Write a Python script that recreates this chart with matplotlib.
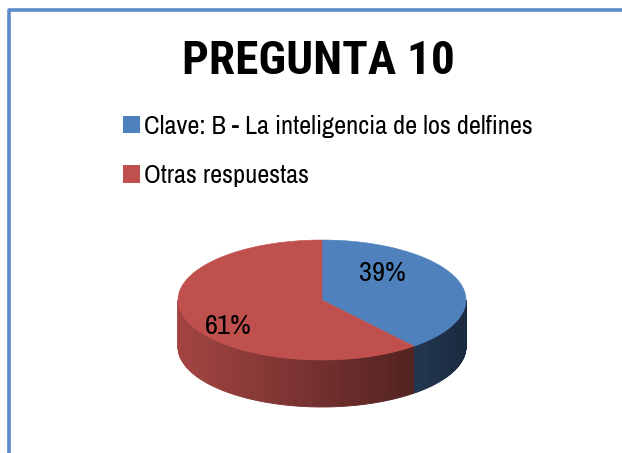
import numpy as np
import matplotlib.pyplot as plt
import matplotlib.colors as mc
from matplotlib.patches import Polygon, Patch

titulo = 'PREGUNTA 10'
categorias = ['Clave: B - La inteligencia de los delfines', 'Otras respuestas']
valores = [39, 61]
colores = ['#4F81BD', '#C0504D']

plt.rcParams['font.family'] = ['Liberation Sans Narrow', 'Archivo Narrow', 'DejaVu Sans']
fuente_titulo = ['Roboto Condensed', 'Asap Condensed', 'DejaVu Sans']

fig = plt.figure(figsize=(6.22, 4.53), dpi=100)
ax = fig.add_axes([0, 0, 1, 1])
ax.set_xlim(0, 622)
ax.set_ylim(453, 0)
ax.axis('off')

# marco azul (izquierda y arriba)
ax.plot([9, 9, 622], [453, 10, 10], color='#5B8BC9', lw=2.6, solid_capstyle='butt')

# pastel 3D: centro, radios y profundidad en pixeles
cx, cy, rx, ry, prof = 322, 300, 144, 60, 47


def punto(t, dy=0):
    t = np.radians(t)
    return cx + rx * np.sin(t), cy - ry * np.cos(t) + dy


def sombra(c, x):
    f = 0.85 - 0.52 * (x - (cx - rx)) / (2 * rx)
    r, g, b = mc.to_rgb(c)
    return (r * f, g * f, b * f)


total = sum(valores)
angulos = np.r_[0, np.cumsum(valores)] * 360 / total

# paredes laterales (solo la mitad frontal)
for i, c in enumerate(colores):
    a0, a1 = max(angulos[i], 90), min(angulos[i + 1], 270)
    if a1 <= a0:
        continue
    ts = np.linspace(a0, a1, 90)
    for t0, t1 in zip(ts[:-1], ts[1:]):
        x0, y0 = punto(t0)
        x1, y1 = punto(t1)
        col = sombra(c, (x0 + x1) / 2)
        ax.add_patch(Polygon([(x0, y0), (x1, y1), (x1, y1 + prof), (x0, y0 + prof)],
                             closed=True, fc=col, ec=col, lw=0.6))

# cara superior
for i, c in enumerate(colores):
    ts = np.linspace(angulos[i], angulos[i + 1], 200)
    xs, ys = punto(ts)
    ax.add_patch(Polygon(np.column_stack([np.r_[cx, xs], np.r_[cy, ys]]),
                         closed=True, fc=c, ec=c, lw=0.4))

# etiquetas de porcentaje
for i, v in enumerate(valores):
    tm = np.radians((angulos[i] + angulos[i + 1]) / 2)
    ax.text(cx - 17 + 0.57 * rx * np.sin(tm), cy - 1.3 * ry * np.cos(tm), '%d%%' % v,
            ha='center', va='center', fontsize=20.5)

ax.text(318, 74, titulo, ha='center', va='baseline', fontsize=34, fontweight='bold',
        family=fuente_titulo)

handles = [Patch(facecolor=c, edgecolor='none') for c in colores]
ax.legend(handles, categorias, loc='upper left', bbox_to_anchor=(123 / 622, 1 - 115 / 453),
          frameon=False, fontsize=19, handlelength=0.64, handleheight=0.64,
          handletextpad=0.15, labelspacing=1.0, borderpad=0, borderaxespad=0)

fig.savefig('out.png', dpi=100)
